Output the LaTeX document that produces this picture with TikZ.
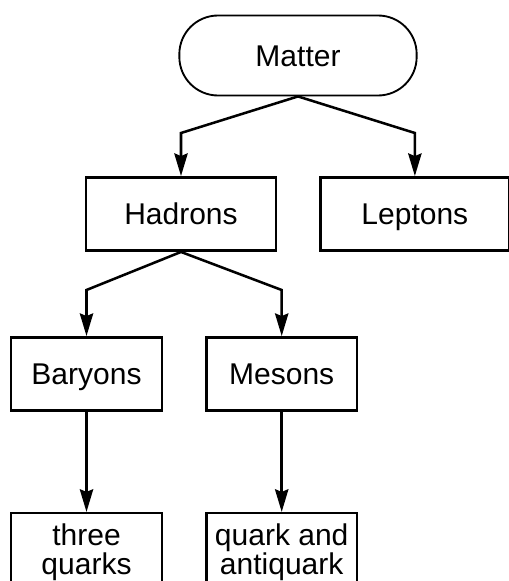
\documentclass[tikz,border=0pt]{standalone}
\usepackage{fontspec}
\setmainfont{Liberation Sans}
\usetikzlibrary{arrows.meta, positioning}

\begin{document}
\begin{tikzpicture}[
    x=0.75pt, y=-0.75pt,
    startstop/.style={rectangle, rounded corners=29pt, draw=black, line width=1.4pt, minimum width=178pt, minimum height=60pt, text height=16pt, text depth=0pt, align=center, font=\fontsize{22.5}{22}\selectfont},
    process/.style={rectangle, draw=black, line width=1.9pt, minimum width=113pt, minimum height=55pt, inner sep=2pt, align=center, font=\fontsize{22.5}{22}\selectfont},
    oneline/.style={text height=16pt, text depth=0pt},
    arrow/.style={-{Stealth[length=17pt, width=10pt, inset=2pt]}, line width=1.9pt},
    node distance=31.5pt
]
\useasboundingbox (0,0) rectangle (509,581);

% Main flow
\node[startstop] (matter) at (298,55.5) {Matter};
\node[process, oneline, minimum width=142.5pt] (hadrons) at (181,214) {Hadrons};
\node[process, oneline, minimum width=141.5pt, right=of hadrons] (leptons) {Leptons};
\node[process, oneline] (baryons) at (86.5,374) {Baryons};
\node[process, oneline, right=of baryons] (mesons) {Mesons};
\node[process, minimum height=58.5pt, below=75pt of baryons.south, anchor=north] (three) {three\\quarks};
\node[process, minimum height=58.5pt, below=75pt of mesons.south, anchor=north] (pair) {quark and\\antiquark};

% bend heights
\coordinate (bendA) at (0,133);
\coordinate (bendB) at (0,290);

% Arrows
\draw[arrow] (matter.south) -- (hadrons.north |- bendA) -- (hadrons.north);
\draw[arrow] (matter.south) -- (leptons.north |- bendA) -- (leptons.north);
\draw[arrow] (hadrons.south) -- (baryons.north |- bendB) -- (baryons.north);
\draw[arrow] (hadrons.south) -- (mesons.north |- bendB) -- (mesons.north);
\draw[arrow] (baryons) -- (three);
\draw[arrow] (mesons) -- (pair);

\end{tikzpicture}
\end{document}
